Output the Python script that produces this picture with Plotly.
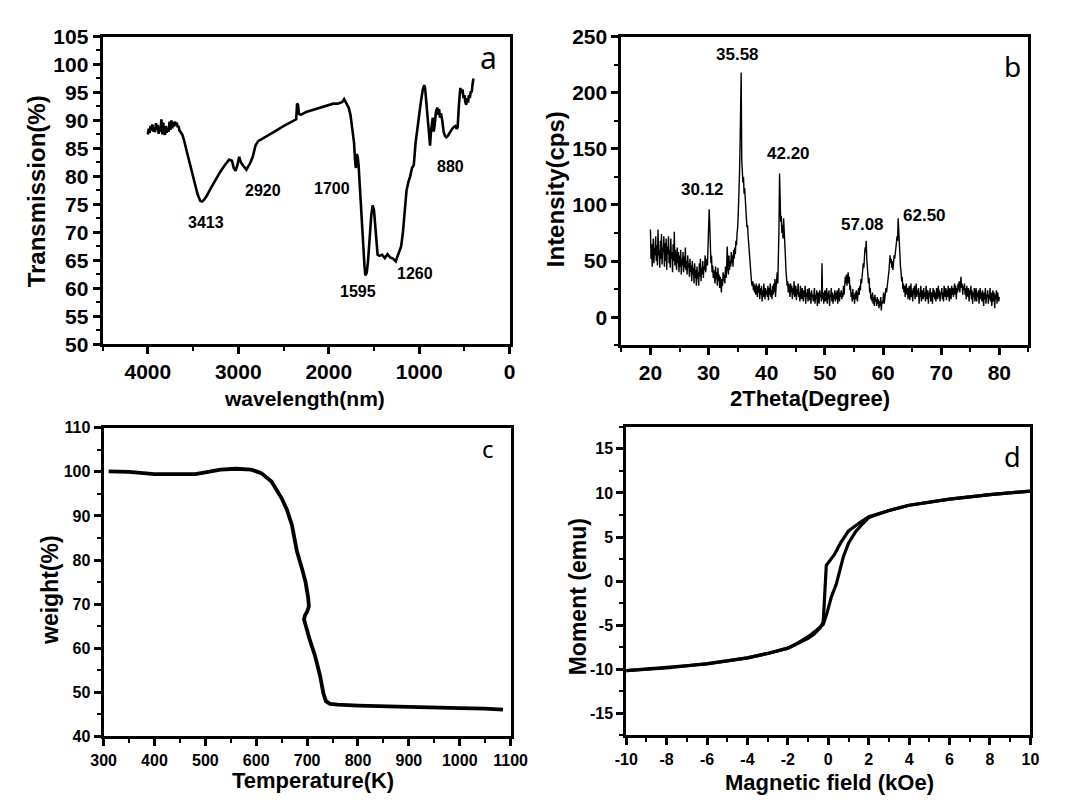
import plotly.graph_objects as go
import numpy as np

# ---------------- Panel a: FTIR ----------------
ftir_wavenumber = [4000, 3990, 3980, 3970, 3960, 3950, 3940, 3930, 3920, 3910, 3900, 3890, 3880, 3870, 3860,
                   3850, 3840, 3830, 3820, 3810, 3800, 3790, 3780, 3770, 3760, 3750, 3740, 3730, 3720, 3710,
                   3700, 3690, 3680, 3670, 3660, 3650, 3620, 3600, 3570, 3540, 3510, 3480, 3450, 3420, 3400,
                   3380, 3350, 3300, 3250, 3200, 3150, 3100, 3070, 3050, 3030, 3010, 2990, 2970, 2950, 2930,
                   2910, 2890, 2870, 2840, 2810, 2780, 2700, 2600, 2500, 2400, 2360, 2350, 2340, 2330, 2310,
                   2250, 2150, 2050, 1950, 1900, 1850, 1830, 1810, 1780, 1760, 1740, 1720, 1710, 1700, 1690,
                   1680, 1670, 1660, 1640, 1620, 1605, 1595, 1580, 1565, 1550, 1530, 1515, 1500, 1490, 1475,
                   1460, 1440, 1410, 1380, 1350, 1320, 1290, 1260, 1240, 1220, 1200, 1180, 1160, 1140, 1120,
                   1100, 1080, 1060, 1040, 1010, 980, 960, 945, 935, 920, 905, 890, 880, 870, 860,
                   850, 840, 830, 815, 800, 790, 780, 770, 760, 745, 730, 715, 700, 680, 660,
                   640, 620, 600, 585, 575, 560, 545, 535, 520, 510, 500, 490, 480, 470, 460,
                   450, 440, 430, 420, 410, 400]
ftir_transmission = [87.5, 88.5, 87.8, 89.0, 88.2, 89.3, 88.0, 88.8, 87.9, 89.5, 88.4, 89.2, 87.6, 88.9, 88.0,
                     90.2, 87.5, 89.6, 88.1, 87.4, 89.0, 87.8, 88.7, 88.0, 89.8, 88.3, 90.0, 88.6, 89.7, 88.9,
                     89.8, 89.2, 89.6, 88.8, 89.0, 88.2, 87.5, 86.5, 84.5, 82.5, 80.5, 78.5, 76.8, 75.6, 75.5,
                     75.8, 76.5, 78.0, 79.5, 80.8, 82.0, 83.0, 82.8, 81.5, 81.0, 82.0, 83.5, 82.5, 82.0, 81.5,
                     81.2, 81.8, 82.3, 83.5, 85.5, 86.3, 87.0, 88.0, 89.0, 89.8, 90.2, 93.0, 92.8, 91.2, 91.0,
                     91.5, 92.0, 92.5, 93.0, 93.0, 93.3, 93.8, 93.2, 92.3, 91.0, 88.5, 86.0, 83.0, 81.5, 84.0,
                     83.5, 82.0, 79.0, 74.0, 68.0, 64.0, 62.3, 62.8, 65.0, 69.0, 73.0, 74.8, 74.0, 72.0, 68.0,
                     66.0, 65.8, 66.0, 65.4, 66.1, 65.5, 65.3, 64.8, 65.8, 66.8, 67.5, 70.0, 74.0, 77.5, 79.0,
                     80.0, 81.5, 82.0, 86.0, 90.0, 93.5, 95.5, 96.3, 95.8, 93.0, 91.0, 87.0, 85.5, 88.0, 89.8,
                     90.5, 88.0, 89.0, 91.5, 92.3, 91.0, 92.0, 90.5, 91.3, 90.0, 88.0, 87.2, 87.0, 87.3, 88.0,
                     88.4, 88.8, 89.0, 88.5, 88.8, 93.0, 95.8, 95.0, 95.5, 94.0, 94.5, 93.3, 92.8, 94.0, 93.2,
                     94.5, 94.0, 95.2, 95.0, 96.5, 97.5]
ftir_labels = ["3413", "2920", "1700", "1595", "1260", "880"]
ftir_label_x = [3357, 2726, 1968, 1679, 1047, 650]
ftir_label_y = [71.8, 77.4, 77.8, 59.4, 62.7, 81.8]

# ---------------- Panel b: XRD (0.1 degree steps from 20 to 80) ----------------
xrd_start = 20.0
xrd_step = 0.1
xrd_intensity = [
    78, 52, 65, 45, 60, 70, 48, 62, 55, 72,    # 20
    50, 64, 46, 78, 55, 60, 44, 68, 52, 74,    # 21
    47, 62, 58, 72, 45, 66, 50, 70, 42, 63,    # 22
    56, 72, 48, 60, 44, 70, 52, 58, 40, 65,    # 23
    50, 76, 46, 60, 52, 42, 62, 48, 58, 40,    # 24
    55, 45, 60, 38, 52, 46, 58, 40, 54, 44,    # 25
    62, 42, 50, 38, 55, 44, 48, 36, 52, 40,    # 26
    46, 32, 50, 38, 44, 30, 48, 35, 42, 28,    # 27
    45, 34, 40, 28, 48, 36, 52, 32, 44, 38,    # 28
    50, 35, 45, 42, 55, 40, 48, 52, 46, 60,    # 29
    72, 96, 82, 62, 48, 55, 40, 46, 35, 42,    # 30
    38, 30, 45, 34, 40, 28, 44, 32, 38, 26,    # 31
    36, 30, 22, 34, 28, 40, 32, 38, 30, 45,    # 32
    35, 42, 63, 48, 38, 55, 42, 50, 45, 58,    # 33
    48, 55, 45, 60, 52, 62, 56, 68, 64, 75,    # 34
    80, 92, 105, 125, 150, 180, 218, 140, 130, 120,   # 35
    125, 110, 115, 100, 95, 88, 80, 82, 72, 65,       # 36
    58, 48, 40, 35, 30, 28, 32, 24, 30, 22,    # 37
    28, 20, 30, 24, 18, 28, 22, 30, 16, 26,    # 38
    20, 28, 14, 24, 18, 30, 22, 16, 26, 20,    # 39
    24, 18, 28, 15, 26, 20, 30, 18, 24, 16,    # 40
    28, 20, 30, 22, 34, 18, 26, 32, 40, 30,    # 41
    50, 78, 128, 95, 85, 90, 75, 82, 70, 88,   # 42
    80, 62, 55, 42, 35, 28, 32, 22, 30, 26,    # 43
    18, 30, 22, 28, 16, 26, 20, 32, 18, 24,    # 44
    28, 15, 25, 20, 30, 18, 22, 14, 28, 20,    # 45
    16, 26, 20, 14, 24, 18, 28, 12, 22, 18,    # 46
    25, 14, 20, 26, 15, 22, 12, 24, 18, 20,    # 47
    14, 22, 26, 12, 20, 16, 24, 10, 22, 18,    # 48
    12, 24, 18, 20, 14, 48, 16, 22, 12, 20,    # 49
    24, 14, 20, 26, 12, 22, 16, 24, 10, 20,    # 50
    18, 26, 14, 22, 12, 20, 16, 24, 14, 22,    # 51
    16, 24, 12, 20, 26, 14, 22, 18, 24, 16,    # 52
    22, 18, 28, 20, 25, 36, 30, 38, 28, 35,    # 53
    40, 30, 36, 24, 28, 18, 22, 14, 25, 16,    # 54
    20, 12, 22, 16, 24, 18, 14, 22, 26, 20,    # 55
    28, 24, 34, 30, 40, 38, 48, 44, 55, 62,    # 56
    58, 68, 52, 46, 38, 30, 35, 22, 26, 16,    # 57
    20, 14, 22, 12, 18, 10, 20, 14, 16, 10,    # 58
    18, 12, 16, 8, 14, 10, 18, 6, 14, 12,      # 59
    16, 22, 12, 20, 18, 26, 22, 30, 28, 36,    # 60
    40, 45, 55, 48, 52, 44, 50, 42, 48, 55,    # 61
    52, 60, 58, 66, 72, 68, 88, 75, 60, 52,    # 62
    45, 40, 32, 36, 25, 30, 22, 28, 18, 26,    # 63
    30, 20, 26, 16, 24, 28, 15, 22, 30, 18,    # 64
    24, 14, 26, 20, 28, 16, 22, 30, 18, 24,    # 65
    20, 26, 12, 22, 18, 28, 14, 24, 20, 16,    # 66
    26, 18, 22, 14, 28, 20, 16, 24, 12, 22,    # 67
    18, 26, 14, 22, 20, 12, 26, 18, 24, 16,    # 68
    22, 14, 26, 20, 16, 28, 18, 24, 14, 22,    # 69
    20, 26, 16, 22, 14, 28, 20, 18, 26, 15,    # 70
    24, 18, 28, 20, 14, 26, 22, 16, 28, 20,    # 71
    26, 18, 24, 30, 20, 28, 16, 26, 22, 30,    # 72
    24, 32, 22, 28, 36, 26, 30, 20, 28, 24,    # 73
    30, 20, 26, 16, 28, 22, 18, 26, 14, 24,    # 74
    20, 28, 16, 24, 12, 22, 18, 26, 14, 20,    # 75
    26, 14, 22, 18, 24, 12, 20, 26, 16, 22,    # 76
    14, 24, 18, 10, 22, 16, 26, 12, 20, 18,    # 77
    24, 12, 20, 16, 26, 14, 22, 10, 18, 24,    # 78
    14, 22, 8, 20, 16, 24, 12, 22, 18, 14,     # 79
    18]                                        # 80
xrd_2theta = list(np.round(xrd_start + xrd_step * np.arange(len(xrd_intensity)), 2))
xrd_labels = ["35.58", "30.12", "42.20", "57.08", "62.50"]
xrd_label_x = [35.05, 28.9, 43.8, 56.5, 67.1]
xrd_label_y = [233.6, 113.9, 145.6, 82.2, 90.8]

# ---------------- Panel c: TGA ----------------
tga_temperature = [310, 350, 400, 450, 480, 500, 530, 560, 590, 610, 630, 650, 660, 670, 680, 690, 697, 702,
                   703.5, 700, 696, 694, 697, 705, 715, 725, 732, 737, 745, 760, 800, 850, 900, 950, 1000,
                   1050, 1085]
tga_weight = [100.1, 100.0, 99.5, 99.4, 99.5, 99.9, 100.5, 100.7, 100.5, 99.7, 97.8, 94.0, 91.5, 88.0, 82.0,
              78.0, 75.0, 71.5, 69.5, 68.3, 67.5, 66.5, 65.2, 62.0, 58.5, 54.0, 49.8, 48.0, 47.4, 47.2, 47.0,
              46.8, 46.6, 46.5, 46.4, 46.3, 46.1]

# ---------------- Panel d: VSM hysteresis ----------------
vsm_field_down = [10, 8, 6, 4, 3, 2, 1.6, 1.0, 0.6, 0.3, -0.1, -0.15, -0.25, -0.4, -0.7, -1.0, -1.5, -2, -3,
                  -4, -6, -8, -10]
vsm_moment_down = [10.2, 9.8, 9.3, 8.6, 8.0, 7.3, 6.7, 5.7, 4.3, 3.0, 1.8, -1.0, -4.6, -5.3, -6.0, -6.5, -7.1,
                   -7.6, -8.2, -8.7, -9.4, -9.8, -10.15]
vsm_field_up = [-10, -8, -6, -4, -3, -2, -1.5, -1.0, -0.6, -0.25, -0.05, 0.15, 0.4, 0.75, 1.0, 1.35, 1.7, 2, 3,
                4, 6, 8, 10]
vsm_moment_up = [-10.15, -9.85, -9.35, -8.7, -8.2, -7.6, -7.0, -6.3, -5.6, -4.9, -3.5, -1.8, -0.3, 2.8, 4.3, 5.6,
                 6.5, 7.2, 8.0, 8.6, 9.3, 9.8, 10.2]

# tick labels
ftir_ticks = [4000, 3000, 2000, 1000, 0]
xrd_xticks = [20, 30, 40, 50, 60, 70, 80]
xrd_yticks = [0, 50, 100, 150, 200, 250]
vsm_xticks = [-10, -8, -6, -4, -2, 0, 2, 4, 6, 8, 10]
vsm_yticks = [-15, -10, -5, 0, 5, 10, 15]

# page body has an 8px margin: figure is drawn at (8, 8)
OFF = 8
W, H = 1070 - 2 * OFF - 2, 805 - 2 * OFF - 2
FONT = "Liberation Sans"


def px(x):
    return (x - OFF) / W


def py(y):
    return 1 - (y - OFF) / H


fig = go.Figure()
fig.add_trace(go.Scatter(x=ftir_wavenumber, y=ftir_transmission, mode="lines",
                         line=dict(color="black", width=2.6), xaxis="x", yaxis="y"))
fig.add_trace(go.Scatter(x=xrd_2theta, y=xrd_intensity, mode="lines",
                         line=dict(color="black", width=1.4), xaxis="x2", yaxis="y2"))
fig.add_trace(go.Scatter(x=tga_temperature, y=tga_weight, mode="lines",
                         line=dict(color="black", width=3.8), xaxis="x3", yaxis="y3"))
fig.add_trace(go.Scatter(x=vsm_field_down, y=vsm_moment_down, mode="lines",
                         line=dict(color="black", width=3.2), xaxis="x4", yaxis="y4"))
fig.add_trace(go.Scatter(x=vsm_field_up, y=vsm_moment_up, mode="lines",
                         line=dict(color="black", width=3.2), xaxis="x4", yaxis="y4"))


def axis(domain, rng, dtick, minor_dtick, anchor, size, tickvals=None):
    d = dict(domain=domain, range=rng, anchor=anchor, showline=True, linewidth=3, linecolor="black",
             mirror=True, ticks="outside", ticklen=7, tickwidth=2.5, tickcolor="black",
             showgrid=False, zeroline=False,
             tickfont=dict(family=FONT, size=size, color="black", weight="bold"),
             minor=dict(ticks="outside", ticklen=4, tickwidth=2, tickcolor="black", dtick=minor_dtick,
                        showgrid=False))
    if tickvals is not None:
        d["tickmode"] = "array"
        d["tickvals"] = tickvals
        d["ticktext"] = [str(v) for v in tickvals]   # plain hyphen minus like the original
    else:
        d["dtick"] = dtick
        d["tick0"] = 0
    return d


fig.update_layout(
    width=W, height=H, margin=dict(l=0, r=0, t=0, b=0),
    paper_bgcolor="white", plot_bgcolor="white", showlegend=False,
    xaxis=axis([px(92), px(511)], [4500, 0], None, 500, "y", 21, tickvals=ftir_ticks),
    yaxis=axis([py(342), py(25)], [50, 105], 5, 2.5, "x", 21),
    xaxis2=axis([px(626), px(1045)], [15, 85], None, 5, "y2", 21, tickvals=xrd_xticks),
    yaxis2=axis([py(343), py(25)], [-25, 250], None, 25, "x2", 21, tickvals=xrd_yticks),
    xaxis3=axis([px(93), px(512)], [300, 1100], 100, 50, "y3", 16),
    yaxis3=axis([py(746), py(428)], [40, 110], 10, 5, "x3", 16),
    xaxis4=axis([px(631), px(1047)], [-10, 10], None, 1, "y4", 16, tickvals=vsm_xticks),
    yaxis4=axis([py(745), py(427)], [-17.5, 17.5], None, 2.5, "x4", 16, tickvals=vsm_yticks),
)

ann = []
for t, x, y in zip(ftir_labels, ftir_label_x, ftir_label_y):
    ann.append(dict(text=t, x=x, y=y, xref="x", yref="y", showarrow=False,
                    font=dict(family=FONT, size=16, color="black", weight="bold")))
for t, x, y in zip(xrd_labels, xrd_label_x, xrd_label_y):
    ann.append(dict(text=t, x=x, y=y, xref="x2", yref="y2", showarrow=False,
                    font=dict(family=FONT, size=17, color="black", weight="bold")))

letter_font = "Noto Sans"
ann.append(dict(text="a", x=235, y=101.2, xref="x", yref="y", showarrow=False,
                font=dict(family=letter_font, size=30, color="black")))
ann.append(dict(text="b", x=82.2, y=223.5, xref="x2", yref="y2", showarrow=False,
                font=dict(family=letter_font, size=28, color="black")))
ann.append(dict(text="c", x=1055, y=105.4, xref="x3", yref="y3", showarrow=False,
                font=dict(family=letter_font, size=24, color="black")))
ann.append(dict(text="d", x=9.1, y=14.1, xref="x4", yref="y4", showarrow=False,
                font=dict(family=letter_font, size=27, color="black")))

titles = [
    ("Transmission(%)", 24, 185, -90, 24),
    ("Intensity(cps)", 559, 182, -90, 24),
    ("weight(%)", 38, 595, -90, 23),
    ("Moment (emu)", 581, 602, -90, 23),
    ("wavelength(nm)", 300, 398, 0, 21),
    ("2Theta(Degree)", 820, 398, 0, 22),
    ("Temperature(K)", 309, 791, 0, 22),
    ("Magnetic field (kOe)", 840, 793, 0, 22),
]
for t, x, y, ang, s in titles:
    ann.append(dict(text=t, x=px(x), y=py(y), xref="paper", yref="paper", showarrow=False,
                    textangle=ang, xanchor="center", yanchor="middle",
                    font=dict(family=FONT, size=s, color="black", weight="bold")))

fig.update_layout(annotations=ann)
fig.write_html("out.html")
